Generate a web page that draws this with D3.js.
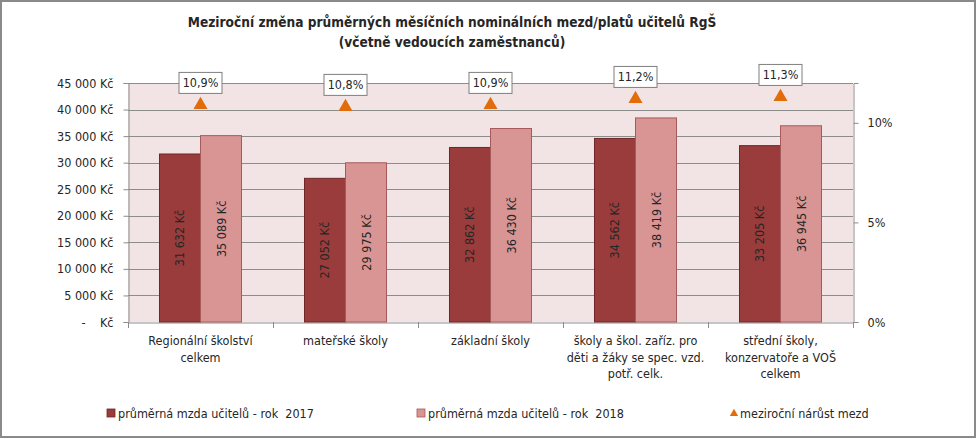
<!DOCTYPE html>
<html>
<head>
<meta charset="utf-8">
<script src="https://cdn.jsdelivr.net/npm/d3@7"></script>
<style>
  html, body { margin: 0; padding: 0; background: #fff; }
  svg { display: block; }
  text { font-family: "Liberation Sans Narrow", "DejaVu Sans Condensed", "Open Sans", sans-serif; fill: #262626; }
</style>
</head>
<body>
<svg id="chart" width="978" height="439"></svg>
<script>
const titleLines = ["Meziroční změna průměrných měsíčních nominálních mezd/platů učitelů RgŠ", "(včetně vedoucích zaměstnanců)"];
const categories = [
  "Regionální školství\ncelkem",
  "mateřské školy",
  "základní školy",
  "školy a škol. zaříz. pro\nděti a žáky se spec. vzd.\npotř. celk.",
  "střední školy,\nkonzervatoře a VOŠ\ncelkem"
];
const seriesNames = ["průměrná mzda učitelů - rok  2017", "průměrná mzda učitelů - rok  2018", "meziroční nárůst mezd"];
const wage2017 = [31632, 27052, 32862, 34562, 33205];
const wage2018 = [35089, 29975, 36430, 38419, 36945];
const growth = [10.9, 10.8, 10.9, 11.2, 11.3];
const leftTicks = [0, 5000, 10000, 15000, 20000, 25000, 30000, 35000, 40000, 45000];
const rightTicks = [0, 5, 10];

const colors = { dark: "#9a3c3b", light: "#d99594", darkStroke: "#6e2726", lightStroke: "#a65a59", tri: "#e36c0a", plotBg: "#f2e4e4", grid: "#8c8c8c" };

const svg = d3.select("#chart");
const M = { left: 128, right: 853, top: 83, bottom: 322 };

// frame
svg.append("rect").attr("x", 1).attr("y", 1).attr("width", 974).attr("height", 436)
  .attr("fill", "#fff").attr("stroke", "#8a8a8a").attr("stroke-width", 2);

// title
svg.append("g").selectAll("text").data(titleLines).join("text")
  .attr("x", 452).attr("y", (d, i) => 22 + i * 20)
  .attr("text-anchor", "middle").attr("dominant-baseline", "central")
  .style("font-weight", "bold").style("font-size", "13.6px")
  .text(d => d);

const x = d3.scaleBand().domain(categories).range([M.left, M.right]).paddingInner(0).paddingOuter(0);
const x1 = d3.scaleBand().domain([0, 1]).range([0, x.bandwidth()]).paddingInner(0).paddingOuter(0.768);
const y = d3.scaleLinear().domain([0, 45000]).range([M.bottom, M.top]);
const yR = d3.scaleLinear().domain([0, 12]).range([M.bottom, M.top]);

// plot background
svg.append("rect").attr("x", M.left).attr("y", M.top).attr("width", M.right - M.left).attr("height", M.bottom - M.top)
  .attr("fill", colors.plotBg);

// gridlines
svg.append("g").selectAll("line").data(leftTicks.slice(1)).join("line")
  .attr("x1", M.left).attr("x2", M.right)
  .attr("y1", d => Math.round(y(d)) + 0.5).attr("y2", d => Math.round(y(d)) + 0.5)
  .attr("stroke", colors.grid).attr("stroke-width", 1);

// left axis
const fmtKc = v => v === 0 ? "-    Kč" : d3.format(",")(v).replace(/,/g, " ") + " Kč";
const yAxis = d3.axisLeft(y).tickValues(leftTicks).tickSize(5).tickPadding(10).tickFormat(fmtKc);
const gl = svg.append("g").attr("transform", `translate(${M.left + 0.5},0)`).call(yAxis);
gl.select(".domain").attr("stroke", colors.grid);
gl.selectAll(".tick line").attr("stroke", colors.grid);
gl.selectAll(".tick text").style("font-size", "12.5px").style("white-space", "pre").attr("fill", "#262626");

// right axis
const yRAxis = d3.axisRight(yR).tickValues(rightTicks).tickSize(5).tickPadding(9).tickFormat(d => d + "%");
const gr = svg.append("g").attr("transform", `translate(${M.right + 0.5},0)`).call(yRAxis);
gr.select(".domain").attr("stroke", colors.grid);
gr.selectAll(".tick line").attr("stroke", colors.grid);
gr.selectAll(".tick text").style("font-size", "12.5px").attr("fill", "#262626");

// bottom axis
const xAxis = d3.axisBottom(x).tickSize(0).tickFormat("");
const gb = svg.append("g").attr("transform", `translate(0,${M.bottom + 0.5})`).call(xAxis);
gb.select(".domain").attr("stroke", colors.grid);
const boundaries = categories.map(c => x(c)).concat([x(categories[categories.length - 1]) + x.bandwidth()]);
svg.append("g").selectAll("line").data(boundaries).join("line")
  .attr("x1", d => Math.round(d) + 0.5).attr("x2", d => Math.round(d) + 0.5)
  .attr("y1", M.bottom).attr("y2", M.bottom + 6).attr("stroke", colors.grid);

// category labels
const catG = svg.append("g");
categories.forEach(c => {
  const lines = c.split("\n");
  catG.append("text").attr("x", x(c) + x.bandwidth() / 2).attr("y", 340)
    .attr("text-anchor", "middle").attr("dominant-baseline", "central").style("font-size", "12.5px")
    .selectAll("tspan").data(lines).join("tspan")
    .attr("x", x(c) + x.bandwidth() / 2).attr("dy", (d, i) => i === 0 ? 0 : 16.5).text(d => d);
});

// bars
const fmtBar = v => d3.format(",")(v).replace(/,/g, " ") + " Kč";
const seriesData = [wage2017, wage2018];
const fills = [colors.dark, colors.light];
const strokes = [colors.darkStroke, colors.lightStroke];
seriesData.forEach((vals, si) => {
  const g = svg.append("g");
  g.selectAll("rect").data(vals).join("rect")
    .attr("x", (d, i) => x(categories[i]) + x1(si))
    .attr("y", d => y(d))
    .attr("width", x1.bandwidth())
    .attr("height", d => y(0) - y(d))
    .attr("fill", fills[si]).attr("stroke", strokes[si]).attr("stroke-width", 1);
  g.selectAll("text").data(vals).join("text")
    .attr("transform", (d, i) => {
      const cx = x(categories[i]) + x1(si) + x1.bandwidth() / 2;
      const cy = (y(d) + y(0)) / 2;
      return `translate(${cx},${cy}) rotate(-90)`;
    })
    .attr("text-anchor", "middle").attr("dominant-baseline", "central")
    .style("font-size", "12.5px").attr("fill", "#1a1a1a")
    .text(d => fmtBar(d));
});

// triangles + labels
const triG = svg.append("g");
growth.forEach((v, i) => {
  const cx = x(categories[i]) + x.bandwidth() / 2;
  const cy = yR(v);
  triG.append("path").attr("d", d3.symbol(d3.symbolTriangle, 85)())
    .attr("transform", `translate(${cx},${cy})`).attr("fill", colors.tri);
  const lbl = d3.format(".1f")(v).replace(".", ",") + "%";
  triG.append("rect").attr("x", cx - 21.5).attr("y", cy - 32.5).attr("width", 43).attr("height", 21)
    .attr("fill", "#fff").attr("stroke", "#7f7f7f").attr("stroke-width", 1);
  triG.append("text").attr("x", cx).attr("y", cy - 22).attr("text-anchor", "middle")
    .attr("dominant-baseline", "central").style("font-size", "12.5px").text(lbl);
});

// legend
const legendItems = [
  { name: seriesNames[0], type: "rect", fill: colors.dark, stroke: colors.darkStroke, x: 107 },
  { name: seriesNames[1], type: "rect", fill: colors.light, stroke: colors.lightStroke, x: 417 },
  { name: seriesNames[2], type: "tri", fill: colors.tri, x: 730 }
];
const lg = svg.append("g");
legendItems.forEach(it => {
  if (it.type === "rect") {
    lg.append("rect").attr("x", it.x).attr("y", 409).attr("width", 8).attr("height", 8)
      .attr("fill", it.fill).attr("stroke", it.stroke).attr("stroke-width", 0.8);
  } else {
    lg.append("path").attr("d", d3.symbol(d3.symbolTriangle, 30)())
      .attr("transform", `translate(${it.x + 4},${413.5})`).attr("fill", it.fill);
  }
  lg.append("text").attr("x", it.x + (it.type === "rect" ? 11 : 10)).attr("y", 413.5)
    .attr("dominant-baseline", "central").style("font-size", "12.5px").style("white-space", "pre").text(it.name);
});
</script>
</body>
</html>
